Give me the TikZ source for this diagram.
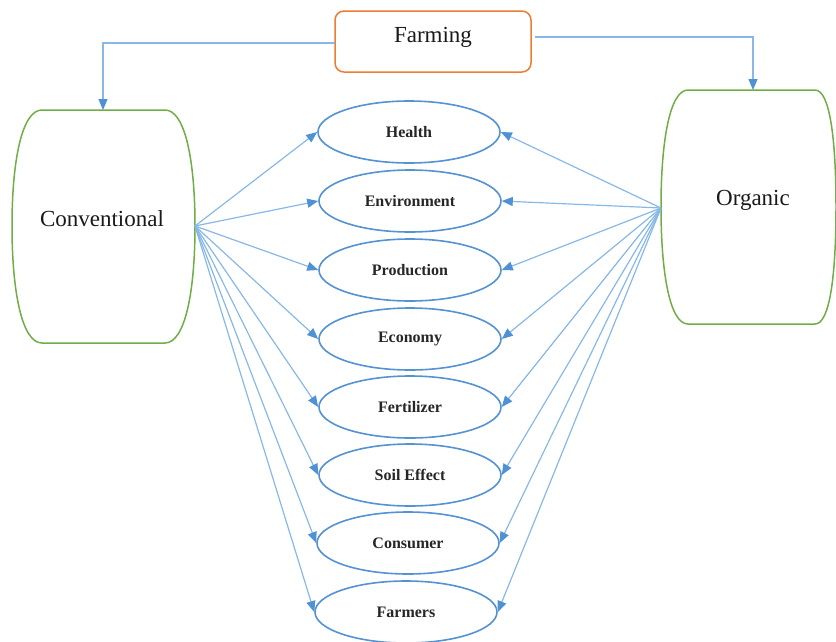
\documentclass[tikz,border=0pt]{standalone}
\usepackage{fontspec}
\setmainfont{Liberation Serif}
\newfontfamily\tnr{Liberation Serif}
\usetikzlibrary{arrows.meta,shapes.geometric}
\definecolor{lineblue}{RGB}{135,184,232}
\definecolor{ellblue}{RGB}{84,146,212}
\definecolor{tipblue}{RGB}{78,145,212}
\definecolor{boxgreen}{RGB}{112,173,71}
\definecolor{boxorange}{RGB}{237,125,49}
\tikzset{
  topic/.style={draw=ellblue, line width=1.6pt, ellipse, minimum width=182pt, minimum height=62pt, inner sep=0pt, font=\tnr\bfseries\fontsize{16}{18}\selectfont, text=black!85},
  link/.style={draw=lineblue, line width=1.2pt, -{Triangle[length=11pt,width=9pt,fill=tipblue,color=tipblue]}},
  bigtext/.style={font=\tnr\fontsize{23}{26}\selectfont, text=black!90},
}
\begin{document}
\begin{tikzpicture}[x=1pt,y=-1pt]
\useasboundingbox (0,0) rectangle (836,641);
% Farming box
\node[draw=boxorange, line width=1.5pt, rounded corners=9pt, minimum width=196pt, minimum height=61pt] (farm) at (433,41.5) {};
\node[bigtext] (farmtxt) at (433,37) {Farming};
% Conventional shape
\draw[boxgreen, line width=1.5pt] (42,110) -- (165,110) .. controls (185,110) and (195,160) .. (195,226) .. controls (195,292) and (185,343) .. (165,343) -- (42,343) .. controls (22,343) and (12,292) .. (12,226) .. controls (12,160) and (22,110) .. (42,110) -- cycle;
\node[bigtext] (conv) at (102,219) {Conventional};
\coordinate (convR) at (195,226);
\coordinate (convT) at (103,110);
% Organic shape
\draw[boxgreen, line width=1.5pt] (688,90) -- (815,90) .. controls (830,90) and (836,140) .. (836,207) .. controls (836,274) and (830,324) .. (815,324) -- (688,324) .. controls (670,324) and (661,274) .. (661,207) .. controls (661,140) and (670,90) .. (688,90) -- cycle;
\node[bigtext] (org) at (753,200) {Organic};
\coordinate (orgL) at (661,208);
\coordinate (orgT) at (753,90);
% Farming connectors
\coordinate (farmL) at (335,43);
\coordinate (farmR) at (535,37);
\draw[link] (farmL) -| (convT);
\draw[link] (farmR) -| (orgT);
% Topics
\node[topic] (t1) at (409,132) {Health};
\node[topic] (t2) at (410,201) {Environment};
\node[topic] (t3) at (410,270) {Production};
\node[topic] (t4) at (410,339) {Economy};
\node[topic] (t5) at (410,407) {Fertilizer};
\node[topic] (t6) at (410,475) {Soil Effect};
\node[topic] (t7) at (408,543) {Consumer};
\node[topic] (t8) at (406,612) {Farmers};
\foreach \t in {t1,t2,t3,t4,t5,t6,t7,t8}{
  \draw[link] (convR) -- (\t.west);
  \draw[link] (orgL) -- (\t.east);
}
\end{tikzpicture}
\end{document}
